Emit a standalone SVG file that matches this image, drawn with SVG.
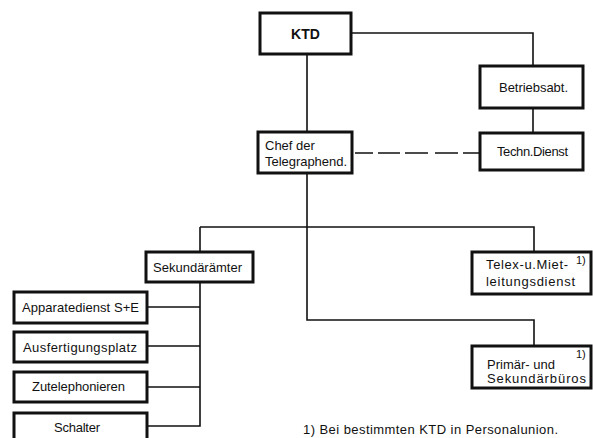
<svg xmlns="http://www.w3.org/2000/svg" width="593" height="438" viewBox="0 0 593 438">
<style>
.box{fill:#fff;stroke:#111;stroke-width:3}
.ln{fill:none;stroke:#111;stroke-width:1.6}
.t{font-family:"Liberation Sans",Arial,sans-serif;font-size:13px;fill:#111}
.b{font-weight:bold;font-size:14px}
.s{font-size:11px}
</style>
<rect width="593" height="438" fill="#fff"/>
<g id="connectors">
<path class="ln" d="M351 33H533V66M533 108V133M307 54V132M307 173V320H534V346M200 227H534V252M200 227V252M200 282V426H147M147 307H200M147 346H200M147 387H200"/>
<path class="ln" d="M355 153H479" stroke-dasharray="18 5 22 5 23 7 23 5 20"/>
</g>
<g id="ktd"><rect class="box" x="260" y="13" width="91" height="41"/><text class="t b" x="305.5" y="39" text-anchor="middle">KTD</text></g>
<g id="betriebsabt"><rect class="box" x="480" y="66" width="103" height="42"/><text class="t" x="499" y="92" textLength="69">Betriebsabt.</text></g>
<g id="techn"><rect class="box" x="480" y="133" width="103" height="37"/><text class="t" x="497" y="156" textLength="71">Techn.Dienst</text></g>
<g id="chef"><rect class="box" x="258" y="132" width="94" height="41"/><text class="t" x="265" y="150">Chef der</text><text class="t" x="265" y="166" textLength="82">Telegraphend.</text></g>
<g id="sekundaeraemter"><rect class="box" x="146" y="252" width="107" height="30"/><text class="t" x="153" y="272" textLength="89">Sekundärämter</text></g>
<g id="apparatedienst"><rect class="box" x="14" y="292" width="133" height="31"/><text class="t" x="22" y="312" textLength="117">Apparatedienst S+E</text></g>
<g id="ausfertigungsplatz"><rect class="box" x="14" y="332" width="133" height="30"/><text class="t" x="23" y="352" textLength="114">Ausfertigungsplatz</text></g>
<g id="zutelephonieren"><rect class="box" x="14" y="372" width="133" height="30"/><text class="t" x="32" y="391" textLength="93">Zutelephonieren</text></g>
<g id="schalter"><rect class="box" x="14" y="413" width="133" height="30"/><text class="t" x="54" y="432" textLength="46">Schalter</text></g>
<g id="telex"><rect class="box" x="472" y="252" width="119" height="42"/><text class="t" x="486" y="269" textLength="82">Telex-u.Miet-</text><text class="t s" x="576" y="264">1)</text><text class="t" x="486" y="286" textLength="89">leitungsdienst</text></g>
<g id="primaer"><rect class="box" x="472" y="346" width="119" height="42"/><text class="t" x="487" y="369">Primär- und</text><text class="t s" x="576" y="358">1)</text><text class="t" x="487" y="383" textLength="99">Sekundärbüros</text></g>
<text class="t" x="303" y="434" textLength="255">1) Bei  bestimmten KTD in Personalunion.</text>
</svg>
